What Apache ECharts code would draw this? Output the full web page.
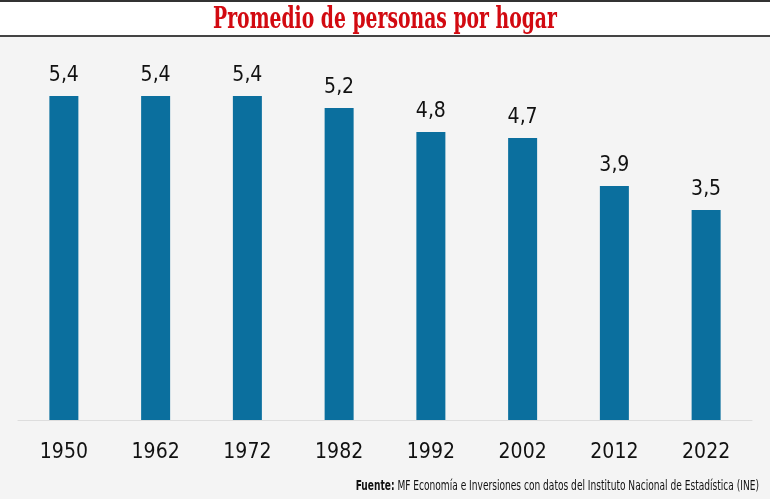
<!DOCTYPE html>
<html><head><meta charset="utf-8">
<script src="https://cdn.jsdelivr.net/npm/echarts@6/dist/echarts.min.js"></script>
<style>html,body{margin:0;padding:0;background:#f4f4f4}#c{width:770px;height:499px}</style>
</head><body><div id="c"></div>
<script>
const categories = ['1950','1962','1972','1982','1992','2002','2012','2022'];
const values = [5.4, 5.4, 5.4, 5.2, 4.8, 4.7, 3.9, 3.5];
const titleText = 'Promedio de personas por hogar';
const sourceBold = 'Fuente:';
const sourceText = ' MF Economía e Inversiones con datos del Instituto Nacional de Estadística (INE)';

const chart = echarts.init(document.getElementById('c'));
chart.setOption({
  backgroundColor: '#f4f4f4',
  animation: false,
  graphic: [
    {type:'rect', shape:{x:0,y:0,width:770,height:36}, style:{fill:'#ffffff'}, z:0},
    {type:'rect', shape:{x:0,y:0,width:770,height:2}, style:{fill:'#333333'}},
    {type:'rect', shape:{x:0,y:35,width:770,height:2}, style:{fill:'#444444'}},
    {type:'text', x:385, y:20, scaleX:0.72, style:{text:titleText, align:'center', verticalAlign:'middle', font:'bold 29px "DejaVu Serif Condensed", "DejaVu Serif", serif', fill:'#d20a11'}},
    {type:'text', x:759, y:486, scaleX:0.72, style:{align:'right', verticalAlign:'middle',
      rich:{b:{font:'bold 14px "DejaVu Sans Condensed", sans-serif', fill:'#111'}, n:{font:'14px "DejaVu Sans Condensed", sans-serif', fill:'#111'}},
      text:'{b|'+sourceBold+'}{n|'+sourceText+'}'}}
  ],
  grid: {left:18, right:18, top:60, bottom:79},
  xAxis: {type:'category', data:categories,
    axisLine:{lineStyle:{color:'#dddddd', width:1}}, axisTick:{show:false},
    axisLabel:{fontSize:21, color:'#111', margin:22, fontFamily:'"DejaVu Sans Condensed", sans-serif'}},
  yAxis: {type:'value', min:0, max:6, show:false, splitLine:{show:false}},
  series: [{type:'bar', data:values, barWidth:29, itemStyle:{color:'#0b6f9e'},
    label:{show:true, position:'top', distance:10, fontSize:21, color:'#111', fontFamily:'"DejaVu Sans Condensed", sans-serif',
      formatter: p => String(p.value).replace('.', ',')}}]
});
</script></body></html>
